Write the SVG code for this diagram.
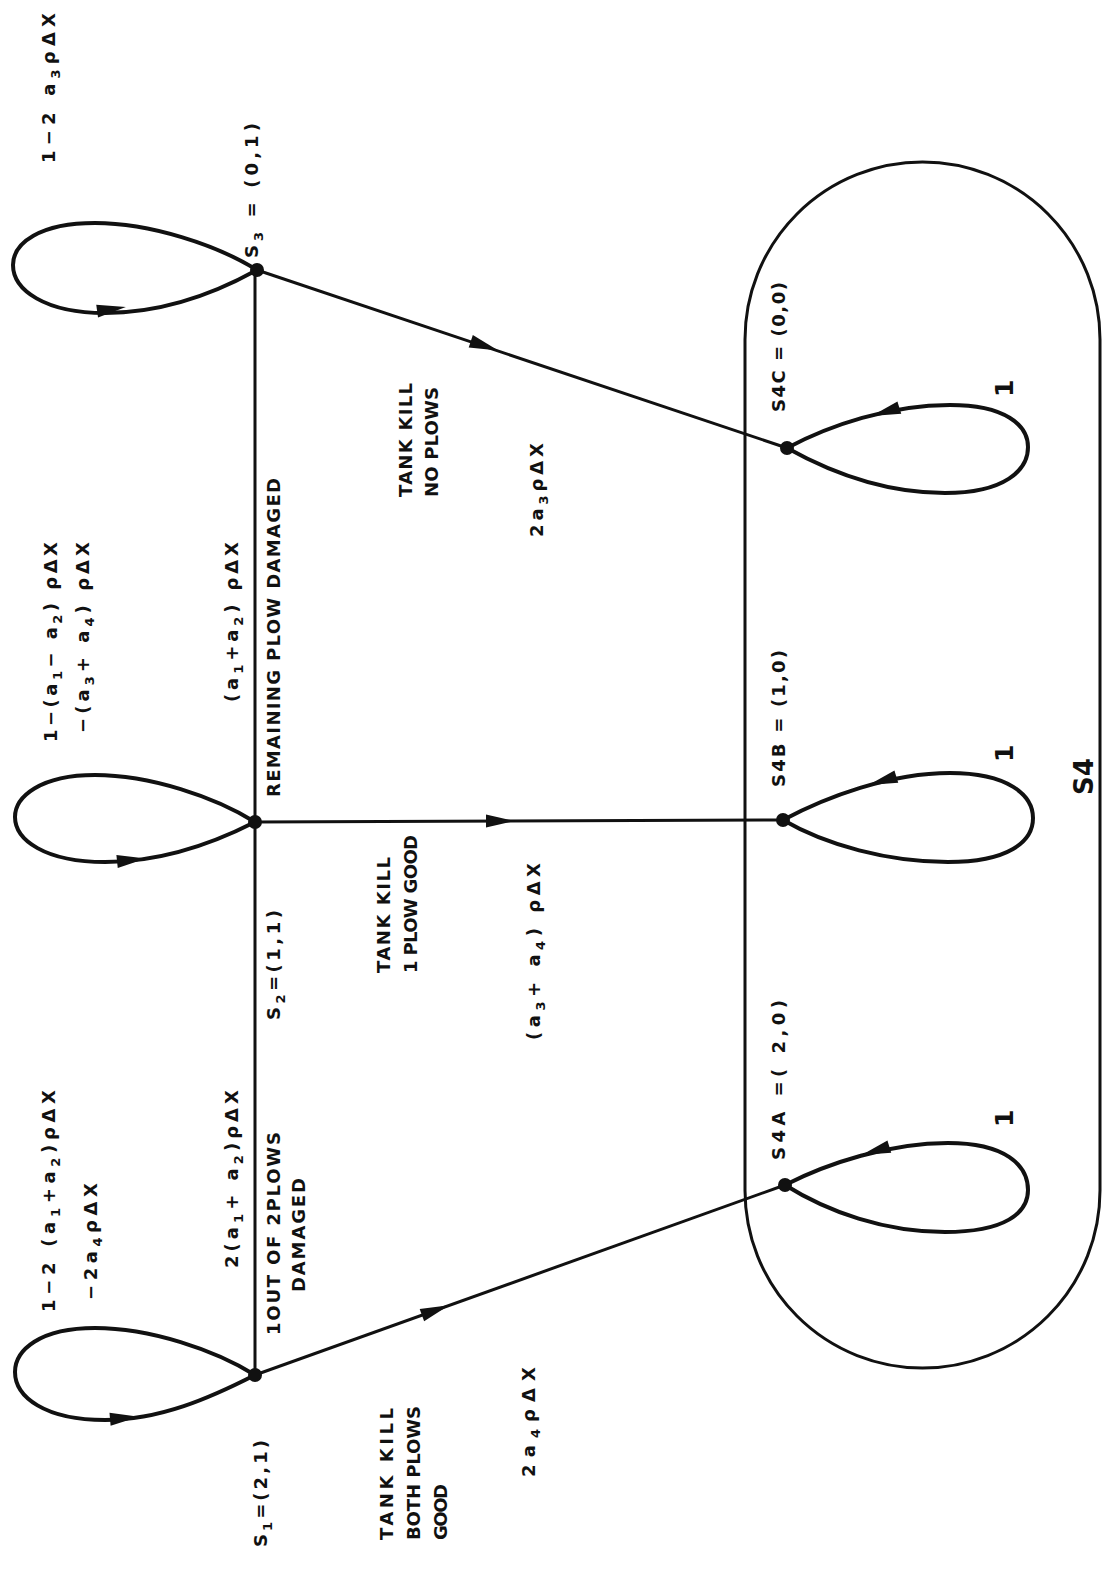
<svg xmlns="http://www.w3.org/2000/svg" xmlns:xlink="http://www.w3.org/1999/xlink" width="1104" height="1569" viewBox="0 0 1104 1569">
<style>
text{font-family:"DejaVu Sans","Liberation Sans",Arial,sans-serif;font-weight:bold;font-size:18px;fill:#111}
.sub{font-size:13px}
.big{font-size:26px}
.one{font-size:25px}
.edge{fill:none;stroke:#111;stroke-width:3}
.loop{fill:none;stroke:#111;stroke-width:4}
.frame{fill:none;stroke:#111;stroke-width:3}
.dot{fill:#111}
</style>
<defs>
<path id="ah" d="M-15,-6.5 L14,0 L-15,6.5 Z" fill="#111"/>
</defs>
<rect width="1104" height="1569" fill="#fff"/>

<g id="group-S4">
<rect class="frame" x="745" y="162" width="355" height="1206" rx="177.5" ry="177.5"/>
<text class="big" transform="translate(1093,795) rotate(-90)">S4</text>
</g>

<g id="connectors">
<path class="edge" d="M255,270 L255,1375"/>
<path class="edge" d="M255,1375 L785,1185"/>
<path class="edge" d="M255,822 L783,820"/>
<path class="edge" d="M257,270 L787,448"/>
<use xlink:href="#ah" transform="translate(436,1310) rotate(-20)"/>
<use xlink:href="#ah" transform="translate(501,821) rotate(0)"/>
<use xlink:href="#ah" transform="translate(485,346) rotate(18.5)"/>
<path class="loop" d="M255,1375 C215,1350 150,1328 95,1328 C40,1328 15,1350 15,1372 C15,1397 45,1420 105,1420 C160,1420 210,1398 255,1375 Z"/>
<path class="loop" d="M255,822 C215,797 150,775 95,775 C40,775 15,797 15,817 C15,840 45,862 105,862 C160,862 210,845 255,822 Z"/>
<path class="loop" d="M257,270 C217,245 150,223 95,223 C40,223 13,243 13,265 C13,290 45,313 105,313 C160,313 212,295 257,270 Z"/>
<path class="loop" d="M787,448 C830,425 890,405 950,405 C1005,405 1028,425 1028,447 C1028,470 1005,493 945,493 C885,493 830,472 787,448 Z"/>
<path class="loop" d="M783,820 C826,797 890,773 950,773 C1008,773 1033,795 1033,818 C1033,842 1008,862 948,862 C888,862 826,845 783,820 Z"/>
<path class="loop" d="M785,1185 C828,1163 890,1143 948,1143 C1005,1143 1028,1165 1028,1190 C1028,1213 1005,1232 945,1232 C885,1232 828,1212 785,1185 Z"/>
<use xlink:href="#ah" transform="translate(125,1418) rotate(-5)"/>
<use xlink:href="#ah" transform="translate(132,860) rotate(-6)"/>
<use xlink:href="#ah" transform="translate(112,309) rotate(-8)"/>
<use xlink:href="#ah" transform="translate(885,412) rotate(163)"/>
<use xlink:href="#ah" transform="translate(882,781) rotate(163)"/>
<use xlink:href="#ah" transform="translate(875,1151) rotate(163)"/>
<text transform="translate(55,1312) rotate(-90)" textLength="222" lengthAdjust="spacing">1−2 (a<tspan class="sub" dy="5">1</tspan><tspan dy="-5">+a</tspan><tspan class="sub" dy="5">2</tspan><tspan dy="-5">)ρΔX</tspan></text>
<text transform="translate(97,1300) rotate(-90)" textLength="117" lengthAdjust="spacing">−2a<tspan class="sub" dy="5">4</tspan><tspan dy="-5">ρΔX</tspan></text>
<text transform="translate(238,1268) rotate(-90)" textLength="178" lengthAdjust="spacing">2(a<tspan class="sub" dy="5">1</tspan><tspan dy="-5">+ a</tspan><tspan class="sub" dy="5">2</tspan><tspan dy="-5">)ρΔX</tspan></text>
<text transform="translate(280,1335) rotate(-90)" textLength="203" lengthAdjust="spacing">1OUT OF 2PLOWS</text>
<text transform="translate(305,1292) rotate(-90)" textLength="114" lengthAdjust="spacing">DAMAGED</text>
<text transform="translate(393,1540) rotate(-90)" textLength="132" lengthAdjust="spacing">TANK KILL</text>
<text transform="translate(420,1540) rotate(-90)" textLength="134" lengthAdjust="spacing">BOTH PLOWS</text>
<text transform="translate(447,1540) rotate(-90)" textLength="56" lengthAdjust="spacing">GOOD</text>
<text transform="translate(535,1477) rotate(-90)" textLength="110" lengthAdjust="spacing">2a<tspan class="sub" dy="5">4</tspan><tspan dy="-5">ρΔX</tspan></text>
<text transform="translate(57,742) rotate(-90)" textLength="200" lengthAdjust="spacing">1−(a<tspan class="sub" dy="5">1</tspan><tspan dy="-5">− a</tspan><tspan class="sub" dy="5">2</tspan><tspan dy="-5">) ρΔX</tspan></text>
<text transform="translate(89,733) rotate(-90)" textLength="191" lengthAdjust="spacing">−(a<tspan class="sub" dy="5">3</tspan><tspan dy="-5">+ a</tspan><tspan class="sub" dy="5">4</tspan><tspan dy="-5">) ρΔX</tspan></text>
<text transform="translate(238,702) rotate(-90)" textLength="160" lengthAdjust="spacing">(a<tspan class="sub" dy="5">1</tspan><tspan dy="-5">+a</tspan><tspan class="sub" dy="5">2</tspan><tspan dy="-5">) ρΔX</tspan></text>
<text transform="translate(280,797) rotate(-90)" textLength="319" lengthAdjust="spacing">REMAINING PLOW DAMAGED</text>
<text transform="translate(390,973) rotate(-90)" textLength="116" lengthAdjust="spacing">TANK KILL</text>
<text transform="translate(417,973) rotate(-90)" textLength="138" lengthAdjust="spacing">1 PLOW GOOD</text>
<text transform="translate(540,1040) rotate(-90)" textLength="177" lengthAdjust="spacing">(a<tspan class="sub" dy="5">3</tspan><tspan dy="-5">+ a</tspan><tspan class="sub" dy="5">4</tspan><tspan dy="-5">) ρΔX</tspan></text>
<text transform="translate(55,163) rotate(-90)" textLength="150" lengthAdjust="spacing">1−2 a<tspan class="sub" dy="5">3</tspan><tspan dy="-5">ρΔX</tspan></text>
<text transform="translate(412,497) rotate(-90)" textLength="114" lengthAdjust="spacing">TANK KILL</text>
<text transform="translate(438,497) rotate(-90)" textLength="110" lengthAdjust="spacing">NO PLOWS</text>
<text transform="translate(543,537) rotate(-90)" textLength="94" lengthAdjust="spacing">2a<tspan class="sub" dy="5">3</tspan><tspan dy="-5">ρΔX</tspan></text>
<text class="one" transform="translate(1013,397) rotate(-90)">1</text>
<text class="one" transform="translate(1013,762) rotate(-90)">1</text>
<text class="one" transform="translate(1013,1127) rotate(-90)">1</text>
</g>

<g id="node-S1">
<circle class="dot" cx="255" cy="1375" r="7"/>
<text transform="translate(267,1547) rotate(-90)" textLength="107" lengthAdjust="spacing">S<tspan class="sub" dy="5">1</tspan><tspan dy="-5">=(2,1)</tspan></text>
</g>
<g id="node-S2">
<circle class="dot" cx="255" cy="822" r="7"/>
<text transform="translate(280,1020) rotate(-90)" textLength="110" lengthAdjust="spacing">S<tspan class="sub" dy="5">2</tspan><tspan dy="-5">=(1,1)</tspan></text>
</g>
<g id="node-S3">
<circle class="dot" cx="257" cy="270" r="7"/>
<text transform="translate(258,258) rotate(-90)" textLength="135" lengthAdjust="spacing">S<tspan class="sub" dy="5">3</tspan><tspan dy="-5"> = (0,1)</tspan></text>
</g>
<g id="node-S4A">
<circle class="dot" cx="785" cy="1185" r="7"/>
<text transform="translate(785,1160) rotate(-90)" textLength="160" lengthAdjust="spacing">S4A  =( 2,0)</text>
</g>
<g id="node-S4B">
<circle class="dot" cx="783" cy="820" r="7"/>
<text transform="translate(785,787) rotate(-90)" textLength="137" lengthAdjust="spacing">S4B = (1,0)</text>
</g>
<g id="node-S4C">
<circle class="dot" cx="787" cy="448" r="7"/>
<text transform="translate(785,412) rotate(-90)" textLength="130" lengthAdjust="spacing">S4C = (0,0)</text>
</g>
</svg>
